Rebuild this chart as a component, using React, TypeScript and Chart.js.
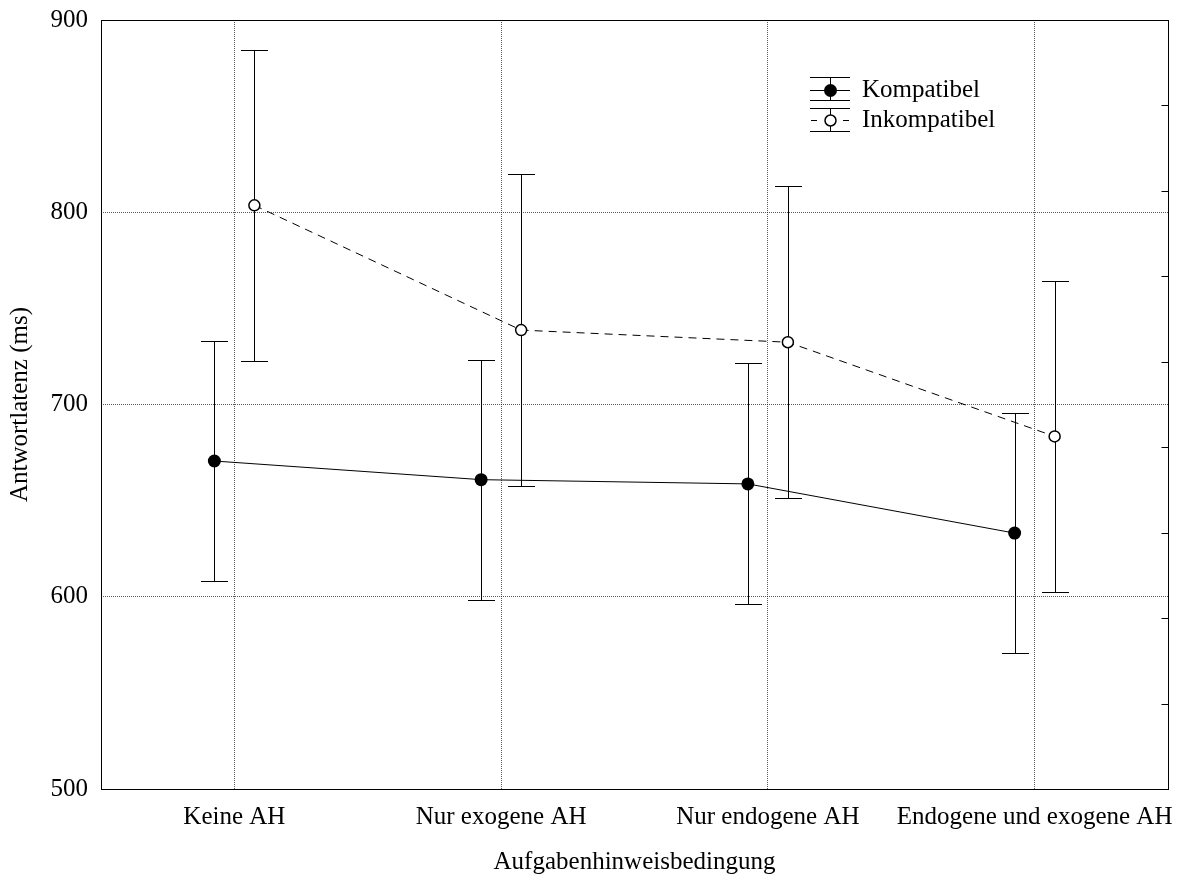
import React, { useEffect, useRef } from 'react';
import { Chart, registerables } from 'chart.js';

Chart.register(...registerables);

// ---- data ----
const categories = ['Keine AH', 'Nur exogene AH', 'Nur endogene AH', 'Endogene und exogene AH'];
const seriesNames = ['Kompatibel', 'Inkompatibel'];
const kompatibelMeans = [670.6, 660.9, 658.7, 633.1];
const kompatibelErrors = [62.6, 62.5, 62.7, 62.6];
const inkompatibelMeans = [803.6, 738.7, 732.4, 683.4];
const inkompatibelErrors = [81.0, 81.0, 81.1, 81.0];
const yTickValues = [500, 600, 700, 800, 900];
const rightMinorTicks = [544.4, 588.9, 633.3, 677.8, 722.2, 766.7, 811.1, 855.6];
const xTitle = 'Aufgabenhinweisbedingung';
const yTitle = 'Antwortlatenz (ms)';

// ---- layout / style ----
const FONT = "'Liberation Serif', 'Times New Roman', serif";
const FONT_SIZE = 25;
const OFFSET = 0.075; // horizontal shift of the two series within a category
const CAP_HALF = 13.5;
const GRID_COLOR = 'rgba(0,0,0,0.65)';

const crisp = (v: number) => Math.round(v) + 0.5;

export default function App() {
  const ref = useRef<HTMLCanvasElement | null>(null);

  useEffect(() => {
    const canvas = ref.current;
    if (!canvas) return;

    const errorSets = [
      { means: kompatibelMeans, errors: kompatibelErrors, shift: -OFFSET },
      { means: inkompatibelMeans, errors: inkompatibelErrors, shift: OFFSET },
    ];

    const bgPlugin = {
      id: 'bg',
      beforeDraw(chart: any) {
        const { ctx } = chart;
        ctx.save();
        ctx.fillStyle = '#fff';
        ctx.fillRect(0, 0, chart.width, chart.height);
        ctx.restore();
      },
    };

    const errorBarPlugin = {
      id: 'errorBars',
      beforeDatasetsDraw(chart: any) {
        const { ctx, scales } = chart;
        const xs = scales.x;
        const ys = scales.y;
        ctx.save();
        ctx.strokeStyle = '#000';
        ctx.lineWidth = 1;
        ctx.setLineDash([]);
        errorSets.forEach((s) => {
          s.means.forEach((m, i) => {
            const x = crisp(xs.getPixelForValue(i + s.shift));
            const yTop = crisp(ys.getPixelForValue(m + s.errors[i]));
            const yBot = crisp(ys.getPixelForValue(m - s.errors[i]));
            ctx.beginPath();
            ctx.moveTo(x, yTop);
            ctx.lineTo(x, yBot);
            ctx.moveTo(x - CAP_HALF, yTop);
            ctx.lineTo(x + CAP_HALF, yTop);
            ctx.moveTo(x - CAP_HALF, yBot);
            ctx.lineTo(x + CAP_HALF, yBot);
            ctx.stroke();
          });
        });
        ctx.restore();
      },
    };

    const framePlugin = {
      id: 'frame',
      afterDraw(chart: any) {
        const { ctx, chartArea, scales } = chart;
        const l = crisp(chartArea.left);
        const r = crisp(chartArea.right);
        const t = crisp(chartArea.top);
        const b = crisp(chartArea.bottom);
        ctx.save();
        ctx.strokeStyle = '#000';
        ctx.lineWidth = 1;
        ctx.setLineDash([]);
        ctx.strokeRect(l, t, r - l, b - t);
        ctx.beginPath();
        rightMinorTicks.forEach((v) => {
          const y = crisp(scales.y.getPixelForValue(v));
          ctx.moveTo(r - 7, y);
          ctx.lineTo(r, y);
        });
        ctx.stroke();

        // legend
        const lx0 = 810;
        const lx1 = 850;
        const lxc = 830;
        const rows = [
          { top: 77.5, mid: 90.5, bot: 100.5, filled: true },
          { top: 108.5, mid: 120.5, bot: 131.5, filled: false },
        ];
        rows.forEach((row, k) => {
          ctx.strokeStyle = '#000';
          ctx.lineWidth = 1;
          ctx.setLineDash([]);
          ctx.beginPath();
          ctx.moveTo(lx0, row.top);
          ctx.lineTo(lx1, row.top);
          ctx.moveTo(lx0, row.bot);
          ctx.lineTo(lx1, row.bot);
          ctx.moveTo(lxc + 0.5, row.top);
          ctx.lineTo(lxc + 0.5, row.bot);
          if (row.filled) {
            ctx.moveTo(lx0, row.mid);
            ctx.lineTo(lx1, row.mid);
          } else {
            ctx.moveTo(lx0 + 1, row.mid);
            ctx.lineTo(lx0 + 7, row.mid);
            ctx.moveTo(lx1 - 7, row.mid);
            ctx.lineTo(lx1 - 1, row.mid);
          }
          ctx.stroke();
          ctx.beginPath();
          if (row.filled) {
            ctx.arc(lxc + 0.5, row.mid, 6.5, 0, Math.PI * 2);
            ctx.fillStyle = '#000';
            ctx.fill();
          } else {
            ctx.arc(lxc + 0.5, row.mid, 5.5, 0, Math.PI * 2);
            ctx.fillStyle = '#fff';
            ctx.fill();
            ctx.lineWidth = 1.5;
            ctx.stroke();
          }
          ctx.fillStyle = '#000';
          ctx.font = `${FONT_SIZE}px ${FONT}`;
          ctx.textBaseline = 'middle';
          ctx.textAlign = 'left';
          ctx.fillText(seriesNames[k], 862, row.mid);
        });
        ctx.restore();
      },
    };

    const chart = new Chart(canvas, {
      type: 'line',
      data: {
        datasets: [
          {
            label: seriesNames[0],
            data: kompatibelMeans.map((m, i) => ({ x: i - OFFSET, y: m })),
            borderColor: '#000',
            borderWidth: 1,
            pointRadius: 6.5,
            pointBackgroundColor: '#000',
            pointBorderColor: '#000',
            pointBorderWidth: 0,
            tension: 0,
          },
          {
            label: seriesNames[1],
            data: inkompatibelMeans.map((m, i) => ({ x: i + OFFSET, y: m })),
            borderColor: '#000',
            borderWidth: 1,
            borderDash: [8, 6],
            pointRadius: 5.5,
            pointBackgroundColor: '#fff',
            pointBorderColor: '#000',
            pointBorderWidth: 1.5,
            tension: 0,
          },
        ],
      },
      options: {
        responsive: false,
        animation: false,
        devicePixelRatio: 1,
        layout: { padding: { top: 20, right: 12, left: 0, bottom: 0 } },
        plugins: {
          legend: { display: false },
          tooltip: { enabled: false },
        },
        scales: {
          x: {
            type: 'linear',
            min: -0.5,
            max: 3.5,
            afterBuildTicks: (scale: any) => {
              scale.ticks = categories.map((_, i) => ({ value: i }));
            },
            afterFit: (scale: any) => {
              scale.height = 88;
              scale.paddingLeft = 0;
              scale.paddingRight = 0;
              scale.paddingTop = 0;
              scale.paddingBottom = 0;
            },
            ticks: {
              callback: (v: any) => categories[Math.round(Number(v))] ?? '',
              color: '#000',
              padding: 13,
              maxRotation: 0,
              autoSkip: false,
              font: { family: FONT, size: FONT_SIZE },
            },
            grid: {
              color: GRID_COLOR,
              lineWidth: 1,
              drawTicks: false,
            },
            border: { display: false, dash: [1, 1] },
            title: {
              display: true,
              text: xTitle,
              color: '#000',
              padding: { top: 0, bottom: 0 },
              font: { family: FONT, size: FONT_SIZE },
            },
          },
          y: {
            type: 'linear',
            min: 500,
            max: 900,
            afterBuildTicks: (scale: any) => {
              scale.ticks = yTickValues.map((v) => ({ value: v }));
            },
            afterFit: (scale: any) => {
              scale.width = 101;
              scale.paddingLeft = 0;
              scale.paddingRight = 0;
              scale.paddingTop = 0;
              scale.paddingBottom = 0;
            },
            ticks: {
              color: '#000',
              padding: 13,
              font: { family: FONT, size: FONT_SIZE },
            },
            grid: {
              color: GRID_COLOR,
              lineWidth: 1,
              drawTicks: false,
            },
            border: { display: false, dash: [1, 1] },
            title: {
              display: true,
              text: yTitle,
              color: '#000',
              padding: { top: 5, bottom: 0 },
              font: { family: FONT, size: FONT_SIZE },
            },
          },
        },
      },
      plugins: [bgPlugin, errorBarPlugin, framePlugin],
    } as any);

    return () => chart.destroy();
  }, []);

  return (
    <div style={{ position: 'absolute', left: 0, top: 0, width: 1180, height: 877, background: '#fff' }}>
      <canvas ref={ref} width={1180} height={877} style={{ display: 'block', width: 1180, height: 877 }} />
    </div>
  );
}
